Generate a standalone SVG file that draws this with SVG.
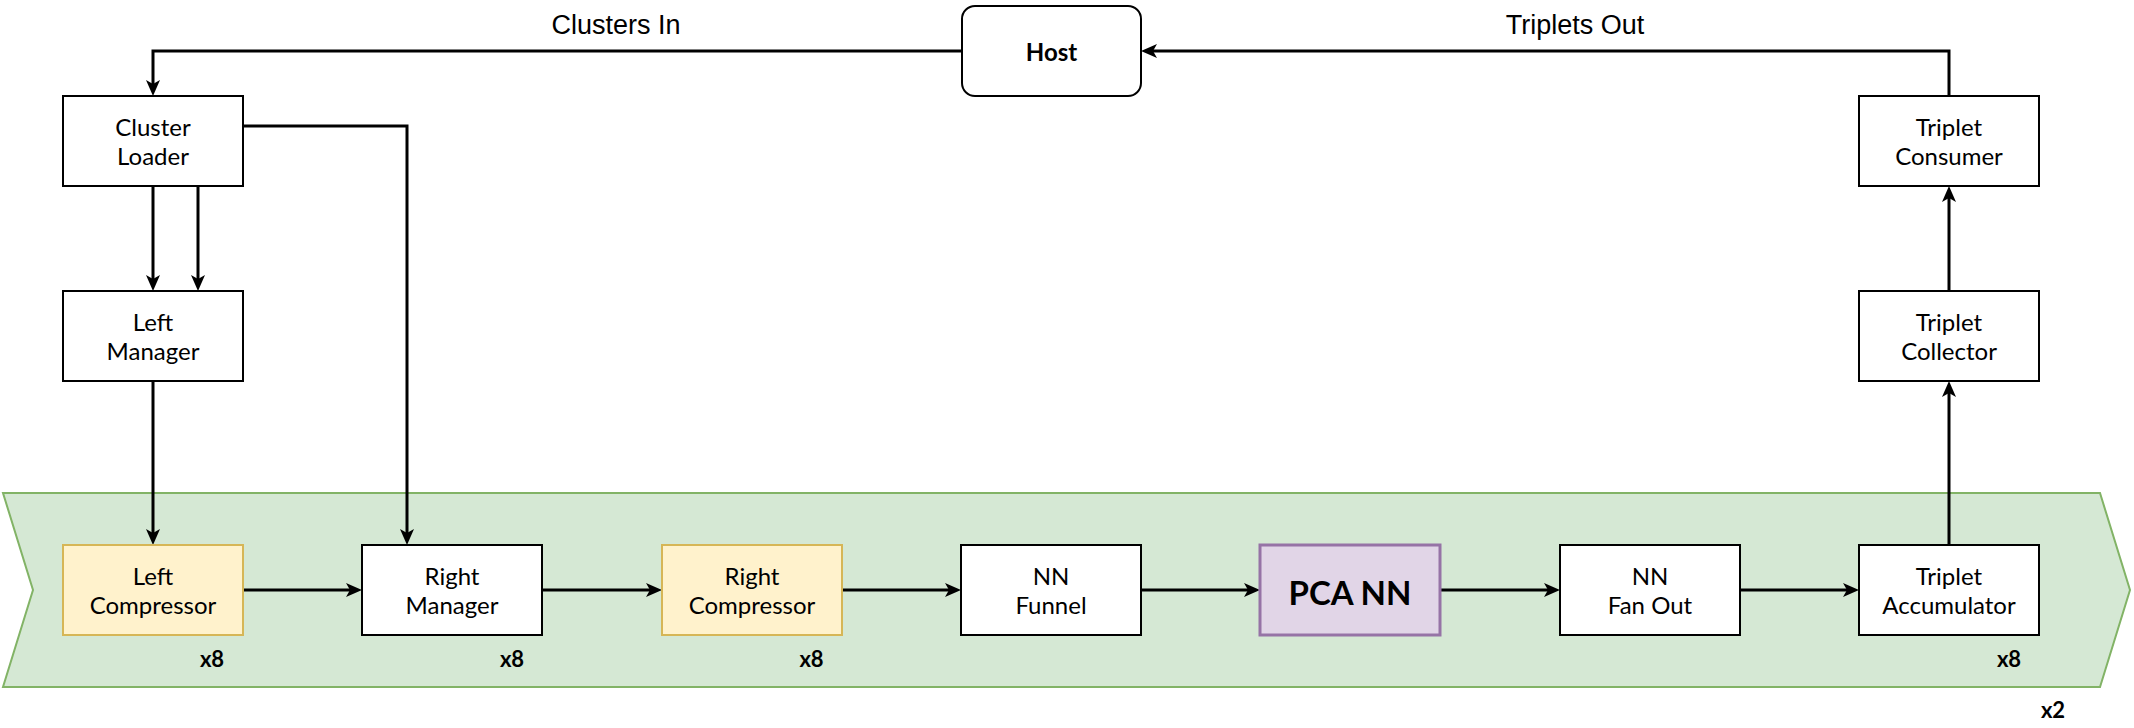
<svg xmlns="http://www.w3.org/2000/svg" width="2134" height="728" viewBox="0 0 2134 728">
<style>
.box{fill:#ffffff;stroke:#000000;stroke-width:2}
.yel{fill:#fff2cc;stroke:#d6b656;stroke-width:2}
.pur{fill:#e1d5e7;stroke:#9673a6;stroke-width:3}
.lbl{font-family:Lato,"Noto Sans",sans-serif;font-size:24px;fill:#000;text-anchor:middle}
.bold{font-weight:bold}
.mult{font-family:Lato,"Noto Sans",sans-serif;font-size:22px;font-weight:bold;fill:#000;text-anchor:middle}
.edge{font-family:"Liberation Sans",Arial,sans-serif;font-size:27px;fill:#000;text-anchor:middle}
.conn{fill:none;stroke:#000;stroke-width:3}
</style>
<defs>
<marker id="arr" viewBox="0 0 18 16" markerWidth="18" markerHeight="16" refX="7" refY="8" orient="auto" markerUnits="userSpaceOnUse">
<path d="M1,1 L17,8 L1,15 L5,8 Z" fill="#000"/>
</marker>
</defs>
<g id="band">
<polygon points="3,493 2100,493 2130,590 2100,687 3,687 33,590" fill="#d5e8d4" stroke="#82b366" stroke-width="2"/>
</g>
<g id="connectors">
<path class="conn" d="M961,51 H153 V86" marker-end="url(#arr)"/>
<path class="conn" d="M243,126 H407 V535" marker-end="url(#arr)"/>
<path class="conn" d="M153,186 V281" marker-end="url(#arr)"/>
<path class="conn" d="M198,186 V281" marker-end="url(#arr)"/>
<path class="conn" d="M153,381 V535" marker-end="url(#arr)"/>
<path class="conn" d="M243,590 H352" marker-end="url(#arr)"/>
<path class="conn" d="M542,590 H652" marker-end="url(#arr)"/>
<path class="conn" d="M842,590 H951" marker-end="url(#arr)"/>
<path class="conn" d="M1141,590 H1250" marker-end="url(#arr)"/>
<path class="conn" d="M1440,590 H1550" marker-end="url(#arr)"/>
<path class="conn" d="M1740,590 H1849" marker-end="url(#arr)"/>
<path class="conn" d="M1949,545 V391" marker-end="url(#arr)"/>
<path class="conn" d="M1949,291 V196" marker-end="url(#arr)"/>
<path class="conn" d="M1949,96 V51 H1151" marker-end="url(#arr)"/>
<text class="edge" x="616" y="34">Clusters In</text>
<text class="edge" x="1575" y="34">Triplets Out</text>
</g>
<g id="host">
<rect class="box" x="962" y="6" width="179" height="90" rx="13"/>
<text class="lbl bold" x="1051.5" y="61">Host</text>
</g>
<g id="cluster-loader">
<rect class="box" x="63" y="96" width="180" height="90"/>
<text class="lbl" x="153" y="136">Cluster</text>
<text class="lbl" x="153" y="165">Loader</text>
</g>
<g id="left-manager">
<rect class="box" x="63" y="291" width="180" height="90"/>
<text class="lbl" x="153" y="331">Left</text>
<text class="lbl" x="153" y="360">Manager</text>
</g>
<g id="triplet-consumer">
<rect class="box" x="1859" y="96" width="180" height="90"/>
<text class="lbl" x="1949" y="136">Triplet</text>
<text class="lbl" x="1949" y="165">Consumer</text>
</g>
<g id="triplet-collector">
<rect class="box" x="1859" y="291" width="180" height="90"/>
<text class="lbl" x="1949" y="331">Triplet</text>
<text class="lbl" x="1949" y="360">Collector</text>
</g>
<g id="left-compressor">
<rect class="yel" x="63" y="545" width="180" height="90"/>
<text class="lbl" x="153" y="585">Left</text>
<text class="lbl" x="153" y="614">Compressor</text>
<text class="mult" x="212" y="667">x8</text>
</g>
<g id="right-manager">
<rect class="box" x="362" y="545" width="180" height="90"/>
<text class="lbl" x="452" y="585">Right</text>
<text class="lbl" x="452" y="614">Manager</text>
<text class="mult" x="512" y="667">x8</text>
</g>
<g id="right-compressor">
<rect class="yel" x="662" y="545" width="180" height="90"/>
<text class="lbl" x="752" y="585">Right</text>
<text class="lbl" x="752" y="614">Compressor</text>
<text class="mult" x="811.5" y="667">x8</text>
</g>
<g id="nn-funnel">
<rect class="box" x="961" y="545" width="180" height="90"/>
<text class="lbl" x="1051" y="585">NN</text>
<text class="lbl" x="1051" y="614">Funnel</text>
</g>
<g id="pca-nn">
<rect class="pur" x="1260" y="545" width="180" height="90"/>
<text class="lbl bold" x="1350" y="605" style="font-size:33px">PCA NN</text>
</g>
<g id="nn-fan-out">
<rect class="box" x="1560" y="545" width="180" height="90"/>
<text class="lbl" x="1650" y="585">NN</text>
<text class="lbl" x="1650" y="614">Fan Out</text>
</g>
<g id="triplet-accumulator">
<rect class="box" x="1859" y="545" width="180" height="90"/>
<text class="lbl" x="1949" y="585">Triplet</text>
<text class="lbl" x="1949" y="614">Accumulator</text>
<text class="mult" x="2009" y="667">x8</text>
</g>
<g id="repeat-label">
<text class="mult" x="2053" y="718">x2</text>
</g>
</svg>
